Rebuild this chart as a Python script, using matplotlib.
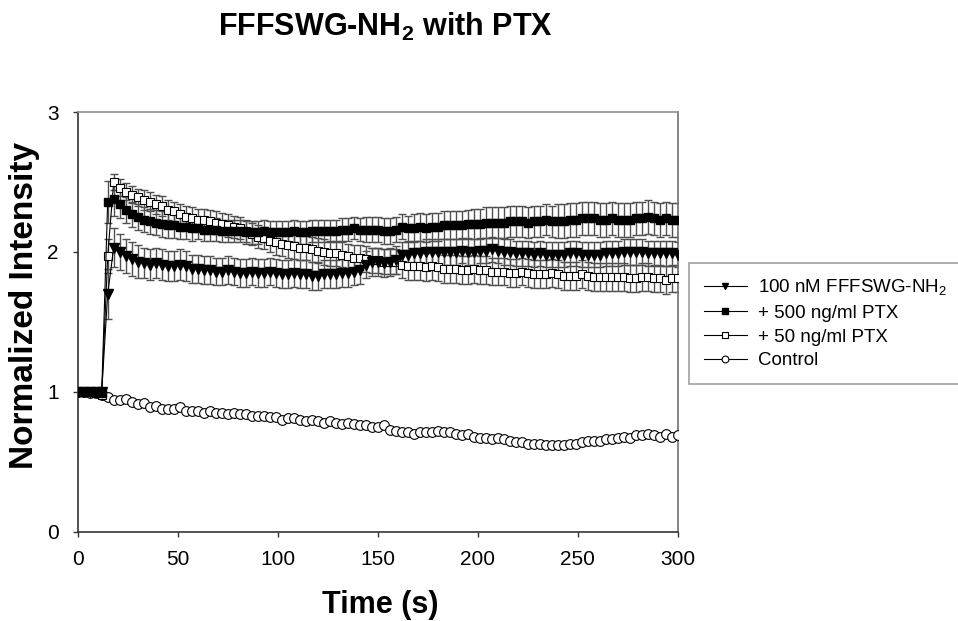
import numpy as np
import matplotlib
matplotlib.use("Agg")
import matplotlib.pyplot as plt

plt.rcParams['font.family'] = ['Liberation Sans', 'DejaVu Sans']
plt.rcParams['mathtext.fontset'] = 'custom'
plt.rcParams['mathtext.rm'] = 'Liberation Sans'
plt.rcParams['mathtext.bf'] = 'Liberation Sans:bold'

# time points (s), one every 3 s
time = np.arange(0, 301, 3)

peptide = [1.00, 1.00, 1.00, 1.00, 1.00, 1.70, 2.03, 2.00, 1.97, 1.95,
           1.93, 1.92, 1.91, 1.92, 1.91, 1.90, 1.90, 1.91, 1.90, 1.88,
           1.88, 1.87, 1.87, 1.86, 1.86, 1.87, 1.86, 1.85, 1.85, 1.86,
           1.85, 1.85, 1.86, 1.85, 1.84, 1.84, 1.85, 1.84, 1.84, 1.83,
           1.83, 1.84, 1.84, 1.84, 1.85, 1.85, 1.86, 1.87, 1.91, 1.93,
           1.93, 1.92, 1.93, 1.94, 1.98, 1.98, 1.99, 1.99, 2.00, 2.00,
           2.00, 2.00, 2.00, 2.00, 2.01, 2.00, 2.00, 2.01, 2.01, 2.02,
           2.01, 2.00, 2.00, 1.99, 1.99, 1.99, 1.98, 1.99, 1.98, 1.98,
           1.98, 1.98, 1.99, 1.99, 1.98, 1.98, 1.98, 1.98, 1.99, 1.99,
           1.99, 2.00, 2.00, 2.00, 2.00, 1.99, 1.99, 1.99, 1.99, 1.99,
           1.98]
peptide_err = [0.02, 0.02, 0.02, 0.02, 0.02, 0.18, 0.14, 0.13, 0.12, 0.12,
               0.12, 0.11, 0.11, 0.11, 0.11, 0.11, 0.11, 0.11, 0.11, 0.10,
               0.10, 0.10, 0.10, 0.10, 0.10, 0.10, 0.10, 0.10, 0.10, 0.10,
               0.10, 0.10, 0.10, 0.10, 0.10, 0.10, 0.10, 0.10, 0.10, 0.10,
               0.10, 0.10, 0.10, 0.10, 0.10, 0.10, 0.10, 0.10, 0.10, 0.10,
               0.10, 0.10, 0.10, 0.10, 0.09, 0.09, 0.09, 0.09, 0.09, 0.09,
               0.09, 0.09, 0.09, 0.09, 0.09, 0.09, 0.09, 0.09, 0.09, 0.09,
               0.09, 0.09, 0.09, 0.09, 0.09, 0.09, 0.09, 0.09, 0.09, 0.09,
               0.09, 0.09, 0.09, 0.09, 0.09, 0.09, 0.09, 0.09, 0.09, 0.09,
               0.09, 0.09, 0.09, 0.09, 0.09, 0.09, 0.09, 0.09, 0.09, 0.09,
               0.09]

ptx500 = [1.00, 1.00, 1.00, 1.00, 0.99, 2.36, 2.38, 2.34, 2.30, 2.27,
          2.25, 2.23, 2.22, 2.21, 2.20, 2.19, 2.19, 2.18, 2.18, 2.17,
          2.17, 2.16, 2.16, 2.16, 2.15, 2.15, 2.15, 2.15, 2.14, 2.14,
          2.14, 2.15, 2.14, 2.14, 2.14, 2.14, 2.15, 2.14, 2.14, 2.15,
          2.15, 2.15, 2.15, 2.15, 2.16, 2.16, 2.17, 2.16, 2.16, 2.16,
          2.16, 2.15, 2.15, 2.16, 2.18, 2.17, 2.17, 2.18, 2.17, 2.18,
          2.18, 2.19, 2.19, 2.19, 2.19, 2.20, 2.20, 2.20, 2.21, 2.21,
          2.21, 2.21, 2.22, 2.22, 2.22, 2.21, 2.22, 2.22, 2.23, 2.22,
          2.22, 2.22, 2.23, 2.23, 2.24, 2.24, 2.24, 2.23, 2.23, 2.24,
          2.23, 2.23, 2.23, 2.24, 2.24, 2.25, 2.24, 2.23, 2.24, 2.23,
          2.23]
ptx500_err = [0.02, 0.02, 0.02, 0.02, 0.02, 0.15, 0.12, 0.10, 0.09, 0.09,
              0.09, 0.09, 0.09, 0.09, 0.09, 0.09, 0.09, 0.09, 0.09, 0.09,
              0.08, 0.08, 0.08, 0.08, 0.08, 0.08, 0.08, 0.08, 0.08, 0.08,
              0.08, 0.08, 0.08, 0.08, 0.08, 0.08, 0.08, 0.08, 0.08, 0.08,
              0.08, 0.08, 0.08, 0.08, 0.08, 0.08, 0.08, 0.08, 0.09, 0.09,
              0.09, 0.09, 0.09, 0.09, 0.09, 0.09, 0.10, 0.10, 0.10, 0.10,
              0.10, 0.10, 0.10, 0.10, 0.10, 0.10, 0.11, 0.11, 0.11, 0.11,
              0.11, 0.11, 0.11, 0.11, 0.11, 0.11, 0.11, 0.11, 0.11, 0.11,
              0.12, 0.12, 0.12, 0.12, 0.12, 0.12, 0.12, 0.12, 0.12, 0.12,
              0.12, 0.12, 0.12, 0.12, 0.12, 0.12, 0.12, 0.12, 0.12, 0.12,
              0.12]

ptx50 = [1.00, 1.00, 1.00, 0.99, 0.98, 1.97, 2.50, 2.46, 2.43, 2.41,
         2.39, 2.37, 2.36, 2.34, 2.33, 2.30, 2.29, 2.27, 2.25, 2.24,
         2.23, 2.23, 2.22, 2.21, 2.20, 2.19, 2.18, 2.17, 2.15, 2.13,
         2.11, 2.10, 2.08, 2.07, 2.06, 2.05, 2.04, 2.03, 2.03, 2.02,
         2.01, 2.00, 1.99, 1.99, 1.98, 1.97, 1.96, 1.96, 1.95, 1.94,
         1.94, 1.93, 1.93, 1.93, 1.91, 1.90, 1.90, 1.90, 1.89, 1.90,
         1.89, 1.88, 1.88, 1.88, 1.87, 1.87, 1.88, 1.87, 1.87, 1.86,
         1.86, 1.86, 1.85, 1.85, 1.86, 1.85, 1.84, 1.84, 1.84, 1.85,
         1.84, 1.83, 1.83, 1.83, 1.84, 1.83, 1.82, 1.82, 1.82, 1.82,
         1.82, 1.82, 1.81, 1.81, 1.82, 1.82, 1.81, 1.81, 1.80, 1.81,
         1.81]
ptx50_err = [0.02, 0.02, 0.02, 0.02, 0.02, 0.12, 0.06, 0.06, 0.06, 0.06,
             0.06, 0.07, 0.07, 0.07, 0.07, 0.07, 0.07, 0.07, 0.08, 0.08,
             0.08, 0.08, 0.08, 0.08, 0.08, 0.08, 0.08, 0.08, 0.08, 0.08,
             0.08, 0.08, 0.08, 0.09, 0.09, 0.09, 0.09, 0.09, 0.09, 0.09,
             0.09, 0.09, 0.09, 0.09, 0.09, 0.09, 0.09, 0.09, 0.09, 0.09,
             0.09, 0.09, 0.09, 0.09, 0.10, 0.10, 0.10, 0.10, 0.10, 0.10,
             0.10, 0.10, 0.10, 0.10, 0.10, 0.10, 0.10, 0.10, 0.10, 0.10,
             0.10, 0.10, 0.10, 0.10, 0.10, 0.10, 0.10, 0.10, 0.10, 0.10,
             0.10, 0.10, 0.10, 0.10, 0.10, 0.10, 0.10, 0.10, 0.10, 0.10,
             0.10, 0.10, 0.10, 0.10, 0.10, 0.10, 0.10, 0.10, 0.10, 0.10,
             0.10]

control = [1.00, 1.00, 0.99, 0.99, 0.98, 0.96, 0.94, 0.94, 0.95, 0.93,
           0.91, 0.92, 0.89, 0.90, 0.88, 0.88, 0.88, 0.89, 0.86, 0.86,
           0.86, 0.85, 0.86, 0.85, 0.85, 0.84, 0.85, 0.84, 0.84, 0.83,
           0.83, 0.83, 0.82, 0.82, 0.80, 0.81, 0.81, 0.80, 0.79, 0.80,
           0.79, 0.78, 0.79, 0.78, 0.77, 0.78, 0.77, 0.76, 0.76, 0.75,
           0.75, 0.76, 0.73, 0.72, 0.71, 0.71, 0.70, 0.71, 0.71, 0.71,
           0.72, 0.71, 0.71, 0.70, 0.69, 0.70, 0.68, 0.67, 0.67, 0.66,
           0.67, 0.66, 0.65, 0.64, 0.64, 0.63, 0.63, 0.63, 0.62, 0.62,
           0.62, 0.62, 0.63, 0.63, 0.64, 0.65, 0.65, 0.65, 0.66, 0.66,
           0.67, 0.68, 0.67, 0.69, 0.69, 0.70, 0.69, 0.68, 0.70, 0.68,
           0.69]

labels = ['100 nM FFFSWG-NH$_2$', '+ 500 ng/ml PTX', '+ 50 ng/ml PTX', 'Control']

fig = plt.figure(figsize=(9.58, 6.21), dpi=100)
ax = fig.add_axes([0.0811, 0.1438, 0.6263, 0.6758])

ebkw = dict(fmt='none', ecolor='#505050', elinewidth=1.0, capsize=3, capthick=1.0)
ax.errorbar(time, ptx50, yerr=ptx50_err, zorder=2, **ebkw)
ax.errorbar(time, ptx500, yerr=ptx500_err, zorder=2, **ebkw)
ax.errorbar(time, peptide, yerr=peptide_err, zorder=2, **ebkw)

l4, = ax.plot(time, control, color='black', lw=0.8, marker='o', ms=7,
              mfc='white', mec='black', mew=0.8, zorder=3)
l3, = ax.plot(time, ptx50, color='black', lw=0.8, marker='s', ms=6,
              mfc='white', mec='black', mew=0.8, zorder=4)
l2, = ax.plot(time, ptx500, color='black', lw=0.8, marker='s', ms=5.5,
              mfc='black', mec='black', zorder=5)
l1, = ax.plot(time, peptide, color='black', lw=0.8, marker='v', ms=6.5,
              mfc='black', mec='black', zorder=6)

ax.set_xlim(0, 300)
ax.set_ylim(0, 3)
ax.set_xticks([0, 50, 100, 150, 200, 250, 300])
ax.set_yticks([0, 1, 2, 3])
ax.tick_params(direction='out', length=3.5, width=1, pad=10, labelsize=15,
               colors='#333333', labelcolor='black')
ax.spines['left'].set_color('#333333')
ax.spines['bottom'].set_color('#333333')
ax.spines['top'].set_color('#909090')
ax.spines['right'].set_color('#707070')
for s in ax.spines.values():
    s.set_linewidth(1.2)

ax.set_xlabel('Time (s)', fontsize=22, fontweight='bold')
ax.xaxis.set_label_coords(0.505, -0.138)
ax.set_ylabel('Normalized Intensity', fontsize=24, fontweight='bold')
ax.yaxis.set_label_coords(-0.063, 0.54)

fig.text(0.402, 1 - 27 / 621, r'FFFSWG-NH$_\mathbf{2}$ with PTX', fontsize=22,
         fontweight='bold', ha='center', va='center')

leg = fig.legend([l1, l2, l3, l4], labels, loc='upper left',
                 bbox_to_anchor=(0.719, 0.5765), fontsize=13.5, numpoints=1,
                 handlelength=2.3, labelspacing=0.35, fancybox=False,
                 borderpad=0.8, handletextpad=0.6, borderaxespad=0,
                 markerscale=0.7)
leg.get_frame().set_edgecolor('#888888')
leg.get_frame().set_linewidth(1.2)

fig.savefig('out.png', dpi=100)
